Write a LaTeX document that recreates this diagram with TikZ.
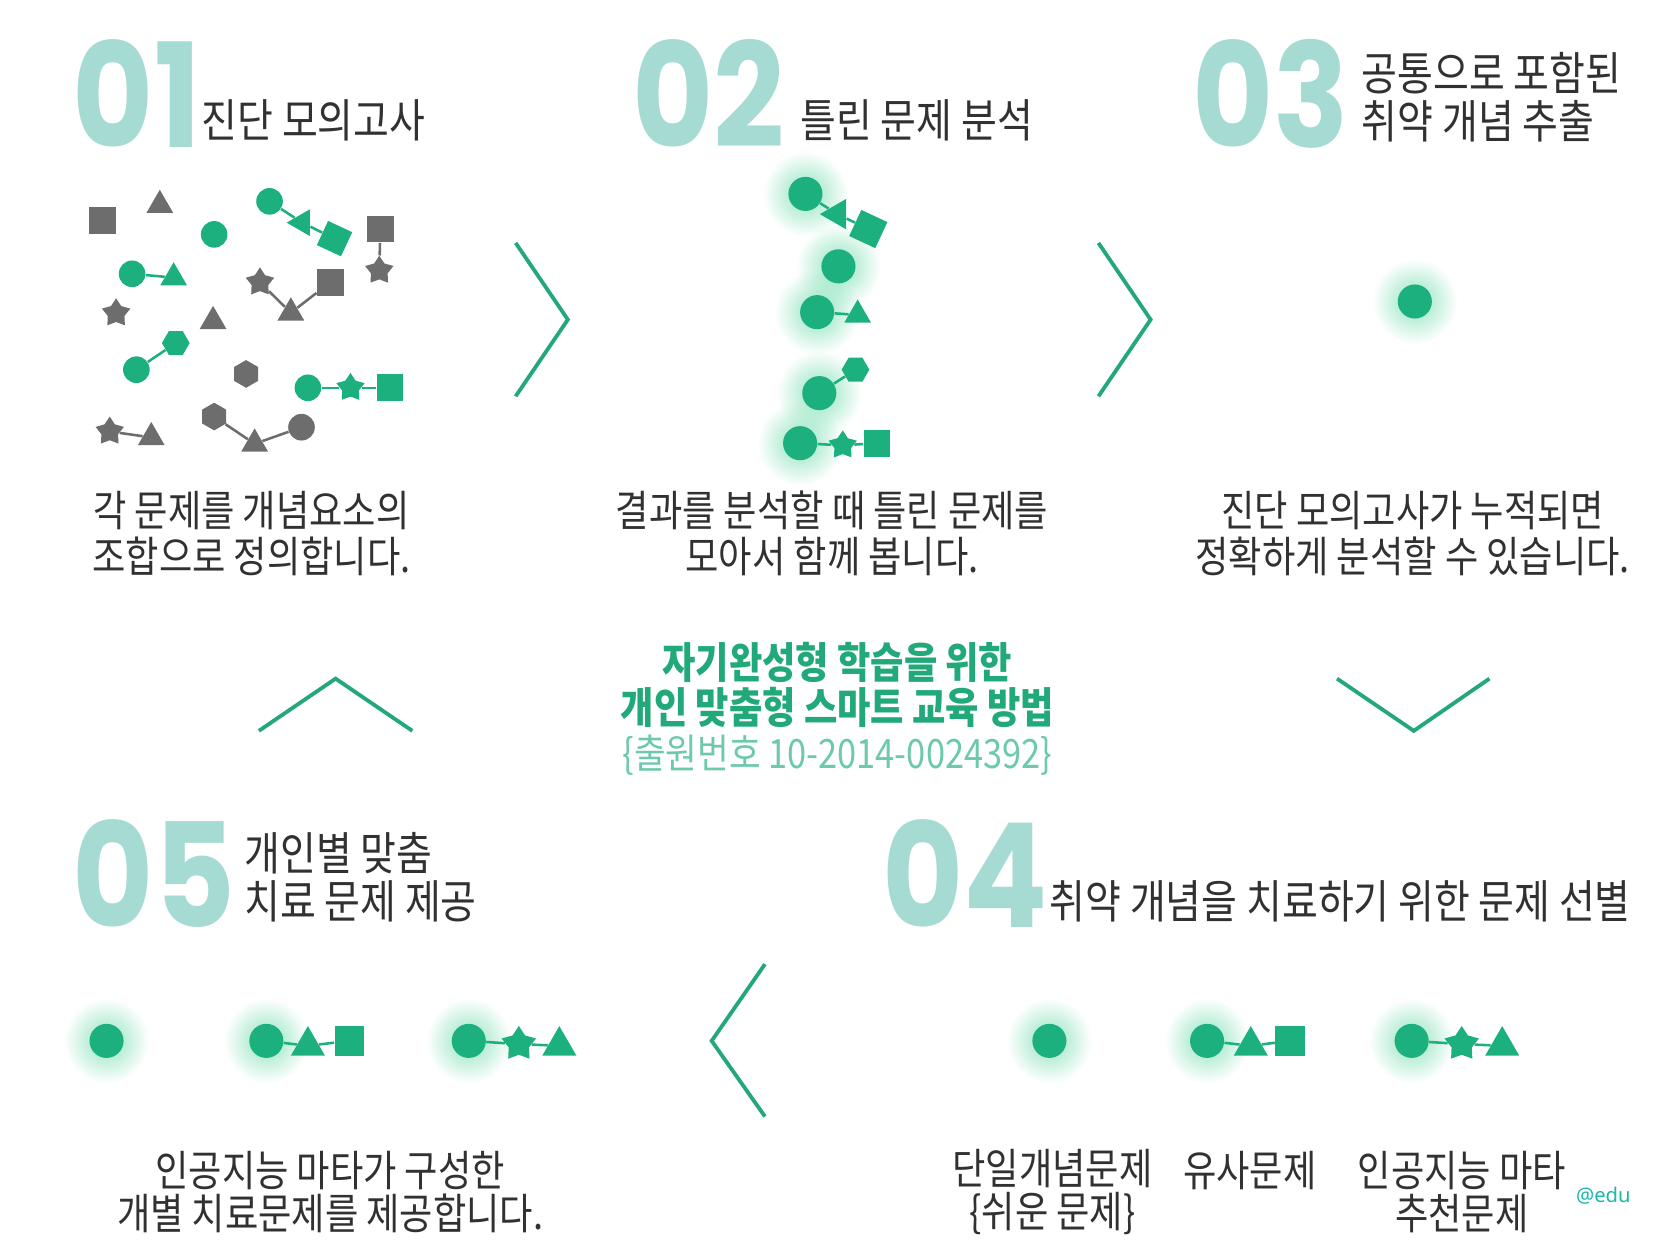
\documentclass[tikz,border=0pt]{standalone}
\usepackage{fontspec}
\setmainfont{Noto Sans CJK KR}[FakeStretch=0.85]
\newfontfamily\numfont{Poppins}[FakeStretch=0.86]
\newfontfamily\tagfont{Noto Sans}
\usetikzlibrary{shapes.geometric,fadings}

\definecolor{mint}{HTML}{1DB07F}
\definecolor{slate}{HTML}{6D6D6D}
\definecolor{numteal}{HTML}{A5DBD3}
\definecolor{chevgreen}{HTML}{24A87B}
\definecolor{ink}{HTML}{313131}
\definecolor{claimgreen}{HTML}{22A979}
\definecolor{patentgreen}{HTML}{6CC9AC}
\definecolor{eduteal}{HTML}{1CB8A8}
\definecolor{halogreen}{HTML}{8EE3BD}

\tikzfading[name=halofade, inner color=transparent!0, outer color=transparent!100]

\tikzset{
  num/.style={font=\numfont\bfseries\fontsize{68}{68}\selectfont, text=numteal, inner sep=0pt, anchor=west},
  title/.style={font=\fontsize{21.5}{22.5}\selectfont, text=ink, inner sep=0pt, anchor=west, align=left},
  body/.style={font=\fontsize{20}{21.5}\selectfont, text=ink, inner sep=0pt, align=center},
  note/.style={font=\fontsize{20}{20}\selectfont, text=ink, inner sep=0pt, align=center},
  claim/.style={font=\bfseries\fontsize{20}{20.75}\selectfont, text=claimgreen, inner sep=0pt, align=center},
  patent/.style={font=\fontsize{19}{19}\selectfont, text=patentgreen, inner sep=0pt},
  tag/.style={font=\tagfont\fontsize{9.5}{9.5}\selectfont, text=eduteal, inner sep=0pt},
  chev/.style={draw=chevgreen, line width=1.8pt, line join=miter},
  halo/.style={fill=halogreen, path fading=halofade},
  % concept pieces
  bit/.style={inner sep=0pt, draw=none},
  ok/.style={bit, fill=mint},
  no/.style={bit, fill=slate},
  okline/.style={draw=mint, line width=1.2pt},
  noline/.style={draw=slate, line width=1.2pt},
  dot/.style={circle, minimum size=12.5pt},
  tri/.style={regular polygon, regular polygon sides=3, minimum size=14.5pt, yshift=-1.8pt},
  ltri/.style={regular polygon, regular polygon sides=3, minimum size=14.5pt, shape border rotate=90, xshift=1.8pt},
  box/.style={rectangle, minimum size=12.5pt},
  hex/.style={regular polygon, regular polygon sides=6, minimum size=13pt},
  star5/.style={star, star points=5, star point ratio=1.7, minimum size=14pt},
  dotL/.style={circle, minimum size=16pt},
  triL/.style={regular polygon, regular polygon sides=3, minimum size=18.5pt, yshift=-2.3pt},
  ltriL/.style={regular polygon, regular polygon sides=3, minimum size=16.5pt, shape border rotate=90, xshift=2pt},
  boxL/.style={rectangle, minimum size=14pt},
  starL/.style={star, star points=5, star point ratio=1.7, minimum size=17pt},
}

\begin{document}
\begin{tikzpicture}[x=0.5pt,y=-0.5pt]
  \useasboundingbox (0,0) rectangle (1560,1170);

  % Glow behind the picked circles
  \foreach \x/\y in {756/182, 787/250, 767/293, 769/369, 751/416, 1328/283,
                     100/977, 250/977, 440/977, 985/977, 1133/977, 1325/977}
    {\path[halo] (\x,\y) circle (40);}

  % Step numbers
  \node[num] (n1) at (68,88) {01};
  \node[num] (n2) at (593,88) {02};
  \node[num] (n3) at (1119,88) {03};
  \node[num] (n5) at (68,820) {05};
  \node[num] (n4) at (828,820) {04};

  % Step titles
  \node[title] (t1) at (189,113) {진단 모의고사};
  \node[title] (t2) at (751,113) {틀린 문제 분석};
  \node[title] (t3) at (1278,91) {공통으로 포함된\\취약 개념 추출};
  \node[title] (t5) at (229,823) {개인별 맞춤\\치료 문제 제공};
  \node[title] (t4) at (985,846) {취약 개념을 치료하기 위한 문제 선별};

  % Step 1: scattered pieces
  \node[no,box]  (s1) at (96,207) {};
  \node[no,tri]  (s2) at (150,189) {};
  \node[ok,dot]  (s3) at (201,220) {};
  \node[ok,dot]  (s4) at (253,189) {};
  \node[ok,ltri] (s5) at (280,209) {};
  \node[ok,box,rotate=-25] (s6) at (314,224) {};
  \node[no,box]  (s7) at (357,215) {};
  \node[no,star5] (s8) at (356,254) {};
  \node[ok,dot]  (s9) at (124,257) {};
  \node[ok,tri]  (s10) at (163,257) {};
  \node[no,star5] (s11) at (244,265) {};
  \node[no,tri]  (s12) at (273,290) {};
  \node[no,box]  (s13) at (310,265) {};
  \node[no,star5] (s14) at (109,294) {};
  \node[no,tri]  (s15) at (200,298) {};
  \node[ok,hex]  (s16) at (165,322) {};
  \node[ok,dot]  (s17) at (128,347) {};
  \node[no,hex,shape border rotate=30] (s18) at (231,351) {};
  \node[ok,dot]  (s19) at (289,364) {};
  \node[ok,star5] (s20) at (329,364) {};
  \node[ok,box]  (s21) at (366,364) {};
  \node[no,star5] (s22) at (103,405) {};
  \node[no,tri]  (s23) at (142,407) {};
  \node[no,hex,shape border rotate=30] (s24) at (201,391) {};
  \node[no,tri]  (s25) at (239,413) {};
  \node[no,dot]  (s26) at (283,401) {};
  \draw[okline] (s4) -- (s5) -- (s6);
  \draw[noline] (s7) -- (s8);
  \draw[okline] (s9) -- (s10);
  \draw[noline] (s11) -- (s12) -- (s13);
  \draw[okline] (s17) -- (s16);
  \draw[okline] (s19) -- (s20) -- (s21);
  \draw[noline] (s22) -- (s23);
  \draw[noline] (s24) -- (s25) -- (s26);

  % Step 2: wrong answers gathered
  \node[ok,dotL] (w1) at (756,182) {};
  \node[ok,ltriL] (w2) at (782,201) {};
  \node[ok,box,rotate=-25,minimum size=13.5pt] (w3) at (815,215) {};
  \node[ok,dotL] (w4) at (787,250) {};
  \node[ok,dotL] (w5) at (767,293) {};
  \node[ok,tri]  (w6) at (805,292) {};
  \node[ok,hex]  (w7) at (803,347) {};
  \node[ok,dotL] (w8) at (769,369) {};
  \node[ok,dotL] (w9) at (751,416) {};
  \node[ok,star5] (w10) at (791,418) {};
  \node[ok,box]  (w11) at (823,416) {};
  \draw[okline] (w1) -- (w2) -- (w3);
  \draw[okline] (w5) -- (w6);
  \draw[okline] (w8) -- (w7);
  \draw[okline] (w9) -- (w10) -- (w11);

  % Step 3: common weak concept
  \node[ok,dotL] (k1) at (1328,283) {};

  % Step 5: personal problems
  \node[ok,dotL] (f1) at (100,977) {};
  \node[ok,dotL] (f2) at (250,977) {};
  \node[ok,triL] (f3) at (289,977) {};
  \node[ok,boxL] (f4) at (328,977) {};
  \node[ok,dotL] (f5) at (440,977) {};
  \node[ok,starL] (f6) at (487,980) {};
  \node[ok,triL] (f7) at (525,977) {};
  \draw[okline] (f2) -- (f3) -- (f4);
  \draw[okline] (f5) -- (f6) -- (f7);

  % Step 4: selected problems
  \node[ok,dotL] (r1) at (985,977) {};
  \node[ok,dotL] (r2) at (1133,977) {};
  \node[ok,triL] (r3) at (1174,977) {};
  \node[ok,boxL] (r4) at (1211,977) {};
  \node[ok,dotL] (r5) at (1325,977) {};
  \node[ok,starL] (r6) at (1372,980) {};
  \node[ok,triL] (r7) at (1410,977) {};
  \draw[okline] (r2) -- (r3) -- (r4);
  \draw[okline] (r5) -- (r6) -- (r7);

  % Chevrons between steps
  \draw[chev] (484,228) -- (533,300) -- (484,372);
  \draw[chev] (1031,228) -- (1080,300) -- (1031,372);
  \draw[chev] (1255,637) -- (1327,686) -- (1398,637);
  \draw[chev] (718,905) -- (668,977) -- (718,1048);
  \draw[chev] (243,686) -- (315,637) -- (387,686);

  % Captions
  \node[body] (d1) at (236,501) {각 문제를 개념요소의\\조합으로 정의합니다.};
  \node[body] (d2) at (781,501) {결과를 분석할 때 틀린 문제를\\모아서 함께 봅니다.};
  \node[body] (d3) at (1326,501) {진단 모의고사가 누적되면\\정확하게 분석할 수 있습니다.};
  \node[note] (d5) at (310,1119) {인공지능 마타가 구성한\\개별 치료문제를 제공합니다.};
  \node[note] (d4a) at (988,1119) {단일개념문제\\\{쉬운 문제\}};
  \node[note] (d4b) at (1173,1099) {유사문제};
  \node[note] (d4c) at (1372,1119) {인공지능 마타\\추천문제};

  % Centre claim
  \node[claim] (claim) at (786,643) {자기완성형 학습을 위한\\개인 맞춤형 스마트 교육 방법};
  \node[patent] (patno) at (786,709) {\{출원번호 10-2014-0024392\}};
  \node[tag] (tag) at (1505,1122) {@edu};
\end{tikzpicture}
\end{document}
